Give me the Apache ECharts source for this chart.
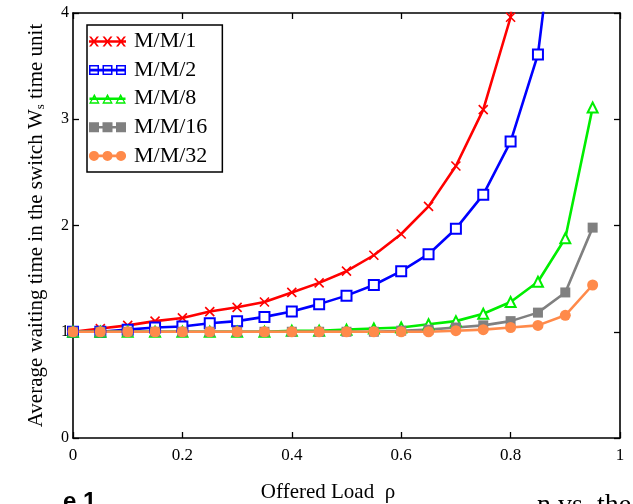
<!DOCTYPE html>
<html><head><meta charset="utf-8">
<script src="https://cdn.jsdelivr.net/npm/echarts@6/dist/echarts.min.js"></script>
<style>html,body{margin:0;padding:0;background:#fff}#c{width:633px;height:504px}</style>
</head><body><div id="c"></div>
<script>
var rho = [0,0.05,0.1,0.15,0.2,0.25,0.3,0.35,0.4,0.45,0.5,0.55,0.6,0.65,0.7,0.75,0.8,0.85,0.9,0.95];
var mm1 = [1.00,1.03,1.06,1.10,1.13,1.19,1.23,1.28,1.37,1.46,1.57,1.72,1.92,2.18,2.56,3.09,3.96,7.0,null,null];
var mm2 = [1.00,1.00,1.02,1.04,1.05,1.08,1.10,1.14,1.19,1.26,1.34,1.44,1.57,1.73,1.97,2.29,2.79,3.61,5.7,null];
var mm8 = [1.00,1.00,1.00,1.00,1.00,1.00,1.00,1.00,1.01,1.01,1.02,1.03,1.04,1.07,1.10,1.17,1.28,1.47,1.88,3.11];
var mm16 = [1.00,1.00,1.00,1.00,1.00,1.00,1.00,1.00,1.00,1.00,1.00,1.00,1.01,1.02,1.04,1.06,1.10,1.18,1.37,1.98];
var mm32 = [1.00,1.00,1.00,1.00,1.00,1.00,1.00,1.00,1.00,1.00,1.00,1.00,1.00,1.00,1.01,1.02,1.04,1.06,1.155,1.44];
var names = ['M/M/1','M/M/2','M/M/8','M/M/16','M/M/32'];
var xTicks = ['0','0.2','0.4','0.6','0.8','1'];

function pairs(v){var o=[];for(var i=0;i<rho.length;i++){if(v[i]!==null)o.push([rho[i],v[i]]);}return o;}
var F='Liberation Serif';

// legend icon paths (37 x 10 box): line + three markers
var IW=37, IH=10, CX=[5,18.5,32];
function poly(pts){return 'M'+pts.map(function(p){return p[0]+','+p[1];}).join('L')+'Z';}
var lineP = poly([[0,3.7],[IW,3.7],[IW,6.3],[0,6.3]]);
function crossIcon(){var s=lineP,d=2.2;CX.forEach(function(c){
  s+=poly([[c-5,0],[c-5+d,0],[c+5,10],[c+5-d,10]]);
  s+=poly([[c+5-d,0],[c+5,0],[c-5+d,10],[c-5,10]]);});return 'path://'+s;}
function sqIcon(hollow){var s=lineP,t=1.5;CX.forEach(function(c){
  s+=poly([[c-5,0],[c+5,0],[c+5,10],[c-5,10]]);
  if(hollow)s+=poly([[c-5+t,t],[c-5+t,10-t],[c+5-t,10-t],[c+5-t,t]]);});return 'path://'+s;}
function triIcon(){var s=lineP;CX.forEach(function(c){
  s+=poly([[c,0],[c+5.5,10],[c-5.5,10]]);
  s+=poly([[c,3.2],[c-3.3,8.6],[c+3.3,8.6]]);});return 'path://'+s;}
function circIcon(){var s=lineP;CX.forEach(function(c){
  s+='M'+(c+5)+',5A5,5,0,1,1,'+(c-5)+',5A5,5,0,1,1,'+(c+5)+',5Z';});return 'path://'+s;}
var icons=[crossIcon(),sqIcon(true),triIcon(),sqIcon(false),circIcon()];

var chart = echarts.init(document.getElementById('c'),null,{renderer:'canvas'});
function axLine(){return {show:true,onZero:false,lineStyle:{color:'#000',width:1.6}};}
function tick(){return {show:true,inside:true,length:6,lineStyle:{color:'#000',width:1.3}};}
var crossPath='path://M0,0L10,10M10,0L0,10';
function ser(name,data,color,symbol,size,extra){
  var s={name:name,type:'line',data:pairs(data),symbol:symbol,symbolSize:size,
    lineStyle:{color:color,width:2.6},itemStyle:{color:color},
    showAllSymbol:true,clip:true,animation:false};
  if(extra){for(var k in extra)s[k]=extra[k];}
  return s;
}
chart.setOption({
  animation:false,
  grid:{left:73,right:13,top:13,bottom:66,outerBoundsMode:'none',containLabel:false},
  legend:{orient:'vertical',left:87,top:25,borderColor:'#000',borderWidth:1.5,
    padding:[5.5,15,5,2],itemGap:6.6,itemWidth:IW,itemHeight:IH,symbolKeepAspect:false,
    itemStyle:{borderWidth:0},
    textStyle:{fontFamily:F,fontSize:22,color:'#000',lineHeight:20,padding:[0,0,0,3]},
    data:names.map(function(n,i){return {name:n,icon:icons[i]};})},
  xAxis:[{type:'value',min:0,max:1,interval:0.2,
    axisLine:axLine(),axisTick:tick(),splitLine:{show:false},
    axisLabel:{fontFamily:F,fontSize:17,color:'#000',margin:9,
      formatter:function(v){return xTicks[Math.round(v/0.2)];}},
    name:'Offered Load  ρ',nameLocation:'middle',nameGap:44,
    nameTextStyle:{fontFamily:F,fontSize:21,color:'#000',padding:[0,37,0,0]}},
   {type:'value',position:'top',min:0,max:1,interval:0.2,
    axisLine:axLine(),axisTick:tick(),axisLabel:{show:false},splitLine:{show:false}}],
  yAxis:[{type:'value',min:0,max:4,interval:1,
    axisLine:axLine(),axisTick:tick(),splitLine:{show:false},
    axisLabel:{fontFamily:F,fontSize:16,color:'#000',margin:4},
    name:'{a|Average waiting time in the switch W}{s|s}{a| time unit}',
    nameLocation:'middle',nameGap:26,nameRotate:90,
    nameTextStyle:{fontFamily:F,fontSize:21,color:'#000',
      rich:{a:{fontFamily:F,fontSize:21,color:'#000'},
            s:{fontFamily:F,fontSize:13,color:'#000',verticalAlign:'bottom',padding:[7,0,0,0]}}}},
   {type:'value',position:'right',min:0,max:4,interval:1,
    axisLine:axLine(),axisTick:tick(),axisLabel:{show:false},splitLine:{show:false}}],
  series:[
    ser('M/M/1',mm1,'#ff0000',crossPath,9,{itemStyle:{color:'#ff0000',borderColor:'#ff0000',borderWidth:1.6}}),
    ser('M/M/2',mm2,'#0000ff','emptyRect',10,{itemStyle:{color:'#0000ff',borderWidth:1.4}}),
    ser('M/M/8',mm8,'#00ee00','emptyTriangle',10,{itemStyle:{color:'#00ee00',borderWidth:1.4}}),
    ser('M/M/16',mm16,'#808080','rect',10),
    ser('M/M/32',mm32,'#ff8a4a','circle',11)
  ],
  graphic:[
    {type:'text',left:63,top:490,style:{text:'e.1',font:'bold 24px "Liberation Sans"',fill:'#000'}},
    {type:'text',left:537,top:492,style:{text:'n vs. the',font:'28px "Liberation Serif"',fill:'#000'}}
  ]
});
</script></body></html>
